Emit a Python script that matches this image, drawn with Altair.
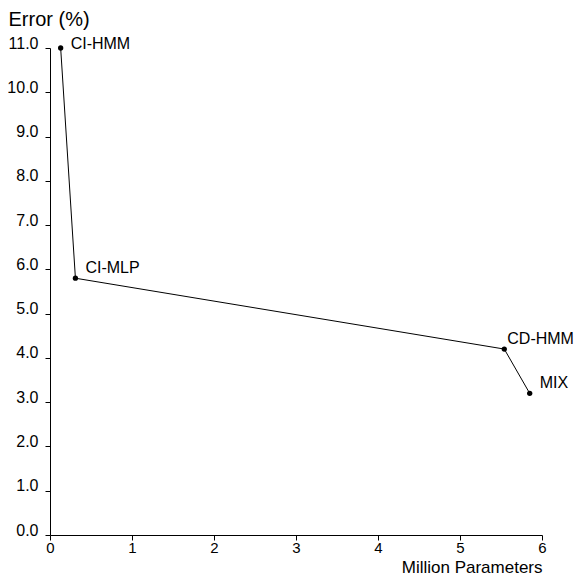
import altair as alt
import pandas as pd

models = ["CI-HMM", "CI-MLP", "CD-HMM", "MIX"]
params_m = [0.13, 0.31, 5.54, 5.85]
error_pct = [11.0, 5.8, 4.2, 3.2]
x_ticks = [0, 1, 2, 3, 4, 5, 6]
y_ticks = [0, 1, 2, 3, 4, 5, 6, 7, 8, 9, 10, 11]

df = pd.DataFrame({"model": models, "params": params_m, "error": error_pct,
                   "order": list(range(len(models)))})

FONT = "Liberation Sans"

x = alt.X("params:Q",
          scale=alt.Scale(domain=[0, 6], nice=False, zero=True),
          axis=alt.Axis(values=x_ticks, format="d", title="Million Parameters", grid=False,
                        labelFlush=False, ticks=True,
                        titleAngle=0, titleAlign="right", titleBaseline="alphabetic",
                        titleX=492, titleY=37, titleFontSize=17, titleFontWeight="normal",
                        labelBaseline="top", labelPadding=0, labelFontSize=15))
y = alt.Y("error:Q",
          scale=alt.Scale(domain=[0, 11], nice=False),
          axis=alt.Axis(values=y_ticks, format=".1f", title="Error (%)", grid=False,
                        labelFlush=False, ticks=True,
                        titleAngle=0, titleAlign="left", titleBaseline="alphabetic",
                        titleX=-42, titleY=-23, titleFontSize=20, titleFontWeight="normal",
                        labelBaseline="alphabetic", labelPadding=7, labelFontSize=16))

base = alt.Chart(df)

def labels(cond, dx, dy):
    return base.transform_filter(cond).mark_text(
        align="left", baseline="alphabetic", dx=dx, dy=dy, fontSize=16, font=FONT, color="black"
    ).encode(x=x, y=y, text="model:N")

line = base.mark_line(color="black", strokeWidth=1).encode(x=x, y=y, order="order:Q")
pts = base.mark_point(filled=True, color="black", size=28, opacity=1).encode(x=x, y=y)
lab_top = labels(alt.datum.model == "CI-HMM", 10, 1)
lab_mid = labels((alt.datum.model == "CI-MLP") | (alt.datum.model == "MIX"), 10, -5)
lab_cd = labels(alt.datum.model == "CD-HMM", 3, -5)

chart = alt.layer(line, pts, lab_top, lab_mid, lab_cd).properties(
    width=492, height=487,
    autosize=alt.AutoSizeParams(type="none"),
    padding={"left": 42, "top": 40, "right": 32, "bottom": 40},
    background="white",
).configure_view(stroke=None).configure_axis(
    grid=False, domainColor="black", tickColor="black", tickSize=5,
    labelColor="black", titleColor="black", labelFont=FONT, titleFont=FONT,
    domainWidth=1, tickWidth=1,
)

chart.save("out.html", embed_options={"renderer": "svg", "actions": False})
